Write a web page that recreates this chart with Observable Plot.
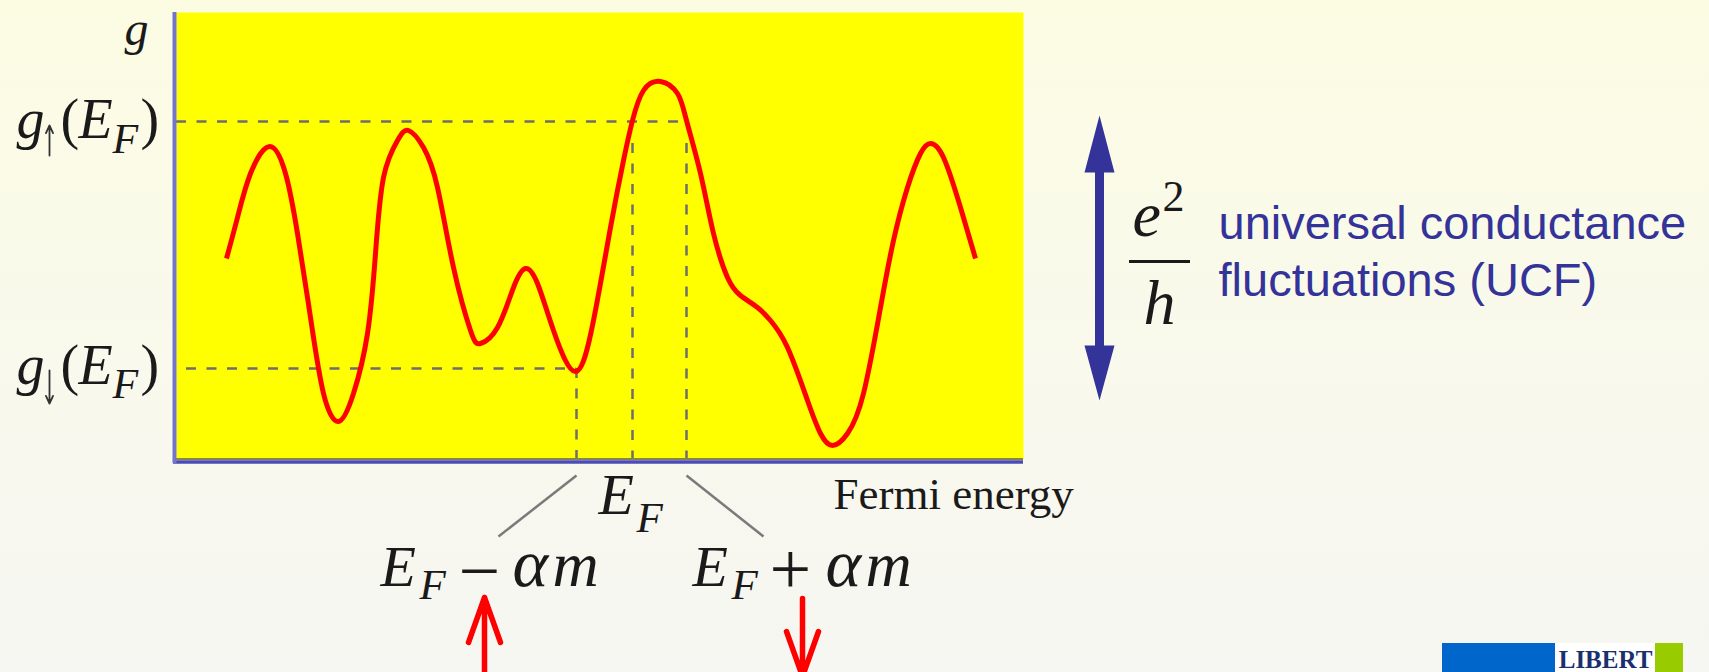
<!DOCTYPE html>
<html>
<head>
<meta charset="utf-8">
<script src="https://cdn.jsdelivr.net/npm/d3@7"></script>
<script src="https://cdn.jsdelivr.net/npm/@observablehq/plot@0.6"></script>
<style>
  html, body { margin: 0; padding: 0; width: 1709px; height: 672px; overflow: hidden;
    background: linear-gradient(180deg, #fcfce3 0%, #f9f9ec 50%, #f6f6f2 100%); }
  #chart svg { display: block; }
</style>
</head>
<body>
<div id="chart"></div>
<script>
// ---- Data: conductance g versus Fermi energy (arbitrary units) ----
const energy = [5.0, 6.1, 7.4, 9.3, 10.9, 12.1, 13.4, 14.7, 16.2, 17.7, 19.1, 19.9, 20.7, 22.1, 23.2,
  24.7, 26.1, 27.7, 29.4, 30.4, 32.1, 33.7, 34.9, 36.1, 37.7, 39.9, 41.7, 43.4, 44.7, 45.6, 46.7,
  48.4, 50.1, 51.0, 52.4, 53.7, 55.1, 56.4, 58.1, 59.4, 61.1, 63.1, 64.4, 65.6, 67.1, 68.7, 70.4,
  71.7, 73.1, 74.4, 75.4, 76.7, 78.4, 79.9];
const conductance = [20.1, 24.2, 28.6, 31.3, 28.6, 22.6, 14.2, 6.6, 3.8, 6.6, 12.6, 20.6, 28.2, 31.9, 32.9,
  31.2, 27.2, 19.2, 12.9, 11.6, 13.2, 17.2, 19.1, 17.6, 12.9, 8.8, 13.9, 23.2, 29.9, 33.9, 36.9,
  37.8, 36.6, 33.9, 28.6, 22.6, 18.2, 16.4, 15.2, 13.9, 11.2, 5.9, 2.6, 1.4, 2.6, 6.6, 15.2,
  21.9, 27.2, 30.6, 31.6, 30.2, 25.2, 20.1];

// reference levels
const gUp = 33.8;      // g↑(E_F)
const gDown = 9.1;     // g↓(E_F)
const eMinus = 40.0;   // E_F − αm
const eF = 45.6;       // E_F
const ePlus = 51.0;    // E_F + αm
const upperGuideEnd = 50.4;
const lowerGuideStart = 1.0;
const verticalGuideTop = 31.6;

const curve = energy.map((e, i) => ({e, g: conductance[i]}));

// ---- Annotation texts (math pieces) ----
const italicPieces = [
  {t: "g", x: -5.2, y: 41.5, s: 48},
  {t: "g", x: -16.0, y: 32.2, s: 56},
  {t: "E", x: -9.8, y: 32.2, s: 56},
  {t: "F", x: -6.4, y: 30.7, s: 42},
  {t: "g", x: -16.0, y: 7.6, s: 56},
  {t: "E", x: -9.8, y: 7.6, s: 56},
  {t: "F", x: -6.4, y: 6.2, s: 42},
  {t: "E", x: 42.2, y: -5.4, s: 58},
  {t: "F", x: 46.0, y: -7.2, s: 43},
  {t: "E", x: 20.4, y: -12.6, s: 58},
  {t: "F", x: 24.3, y: -13.9, s: 43},
  {t: "α", x: 33.6, y: -12.6, s: 68},
  {t: "m", x: 37.6, y: -12.6, s: 64},
  {t: "E", x: 51.6, y: -12.6, s: 58},
  {t: "F", x: 55.5, y: -13.9, s: 43},
  {t: "α", x: 64.9, y: -12.6, s: 68},
  {t: "m", x: 68.9, y: -12.6, s: 64},
  {t: "e", x: 95.6, y: 22.4, s: 64},
  {t: "h", x: 96.7, y: 13.6, s: 64}
];
const uprightPieces = [
  {t: "(", x: -11.6, y: 32.2, s: 56},
  {t: ")", x: -3.6, y: 32.2, s: 56},
  {t: "(", x: -11.6, y: 7.6, s: 56},
  {t: ")", x: -3.6, y: 7.6, s: 56},
  {t: "−", x: 28.2, y: -13.6, s: 74},
  {t: "+", x: 59.3, y: -13.4, s: 74},
  {t: "2", x: 98.6, y: 24.9, s: 44},
  {t: "Fermi energy", x: 65.7, y: -4.9, s: 45}
];
// the ↑ / ↓ spin subscripts of g, drawn as thin arrows
const spinSubscripts = [
  {x: -12.7, y1: 30.4, y2: 33.4},
  {x: -12.7, y1: 8.9, y2: 5.6}
];
const ucfLines = [
  {t: "universal conductance", x: 104.2, y: 22.1},
  {t: "fluctuations (UCF)", x: 104.2, y: 16.4}
];
const splitLinks = [
  {x1: eMinus, y1: -1.6, x2: 32.2, y2: -7.7},
  {x1: ePlus, y1: -1.6, x2: 58.7, y2: -7.7}
];
const spinUpArrow = [{x: 30.8, y: -22.1}];
const spinDownArrow = [{x: 62.6, y: -13.9}];
const ucfArrow = [{x: 92.3, y: 5.9}];
const logoBlocks = [
  {x1: 126.6, x2: 137.9, fill: "#0066cc"},
  {x1: 137.9, x2: 147.9, fill: "#ffffff"},
  {x1: 147.9, x2: 150.7, fill: "#99cc00"}
];

// custom shapes
const openArrow = {
  draw(ctx, l) {
    ctx.moveTo(0, 0); ctx.lineTo(0, -l);
    ctx.moveTo(-16, -l + 45); ctx.lineTo(0, -l); ctx.lineTo(16, -l + 45);
  }
};
const doubleArrow = {
  draw(ctx, l) {
    const hw = 15, sw = 4.5, h1 = 57, h2 = 55;
    ctx.moveTo(0, -l);
    ctx.lineTo(hw, -l + h1); ctx.lineTo(sw, -l + h1);
    ctx.lineTo(sw, -h2); ctx.lineTo(hw, -h2);
    ctx.lineTo(0, 0);
    ctx.lineTo(-hw, -h2); ctx.lineTo(-sw, -h2);
    ctx.lineTo(-sw, -l + h1); ctx.lineTo(-hw, -l + h1);
    ctx.closePath();
  }
};

const serif = "'Liberation Serif', 'Times New Roman', serif";
const ink = "#1a1a1a";
const dash = "10,10.5";
const guide = "#6e6e6e";

const chart = Plot.plot({
  width: 1709,
  height: 672,
  marginLeft: 176,
  marginRight: 686,
  marginTop: 12,
  marginBottom: 213,
  x: {domain: [0, 84.7], axis: null},
  y: {domain: [0, 44.7], axis: null},
  style: {background: "transparent", overflow: "hidden"},
  marks: [
    Plot.frame({fill: "#ffff00", stroke: null}),
    // guide lines
    Plot.ruleY([gUp], {x1: 0, x2: upperGuideEnd, stroke: guide, strokeWidth: 2.5, strokeDasharray: dash}),
    Plot.ruleY([gDown], {x1: lowerGuideStart, x2: eMinus, stroke: guide, strokeWidth: 2.5, strokeDasharray: dash}),
    Plot.ruleX([eMinus], {y1: gDown, y2: 0, stroke: guide, strokeWidth: 2.5, strokeDasharray: dash}),
    Plot.ruleX([eF, ePlus], {y1: verticalGuideTop, y2: 0, stroke: guide, strokeWidth: 2.5, strokeDasharray: dash}),
    // the conductance curve
    Plot.line(curve, {x: "e", y: "g", stroke: "#ff0000", strokeWidth: 5, curve: "natural", strokeLinecap: "butt"}),
    // axes
    Plot.ruleY([0], {x1: 0, x2: 84.7, stroke: "#86864a", strokeWidth: 2, dy: -0.5}),
    Plot.ruleY([0], {x1: -0.3, x2: 84.7, stroke: "#4b4bb5", strokeWidth: 3.5, dy: 2.5}),
    Plot.ruleX([0], {y1: -0.4, y2: 44.7, stroke: "#7474c8", strokeWidth: 4, dx: -2}),
    // split lines below the E_F axis
    Plot.link(splitLinks, {x1: "x1", y1: "y1", x2: "x2", y2: "y2", stroke: "#7a7a7a", strokeWidth: 2.5}),
    // math labels
    Plot.text(italicPieces, {x: "x", y: "y", text: "t", fontSize: d => d.s, fontFamily: serif, fontStyle: "italic",
      textAnchor: "start", lineAnchor: "bottom", fill: ink}),
    Plot.text(uprightPieces, {x: "x", y: "y", text: "t", fontSize: d => d.s, fontFamily: serif,
      textAnchor: "start", lineAnchor: "bottom", fill: ink}),
    Plot.arrow(spinSubscripts, {x: "x", y1: "y1", y2: "y2", stroke: "#333333", strokeWidth: 1.8,
      headLength: 7, headAngle: 50}),
    // fraction bar of e²/h
    Plot.ruleY([19.8], {x1: 95.3, x2: 101.4, stroke: ink, strokeWidth: 3}),
    // UCF text
    Plot.text(ucfLines, {x: "x", y: "y", text: "t", fontSize: 47, fontFamily: "'Liberation Sans', Arial, sans-serif",
      textAnchor: "start", lineAnchor: "bottom", fill: "#333399"}),
    // arrows
    Plot.vector(ucfArrow, {x: "x", y: "y", length: 285, rotate: 0, anchor: "start", shape: doubleArrow,
      fill: "#333399", stroke: "none"}),
    Plot.vector(spinUpArrow, {x: "x", y: "y", length: 83, rotate: 0, anchor: "start", shape: openArrow,
      stroke: "#ff0000", strokeWidth: 5.5, strokeLinecap: "round", strokeLinejoin: "round"}),
    Plot.vector(spinDownArrow, {x: "x", y: "y", length: 78, rotate: 180, anchor: "start", shape: openArrow,
      stroke: "#ff0000", strokeWidth: 5.5, strokeLinecap: "round", strokeLinejoin: "round"}),
    // logo strip
    Plot.rect(logoBlocks, {x1: "x1", x2: "x2", y1: -18.4, y2: -25, fill: "fill"}),
    Plot.text(["LIBERT"], {x: 142.9, y: -20.8, fontSize: 25, fontWeight: "bold", fontFamily: serif,
      fill: "#1b2f6e", lineAnchor: "bottom"})
  ]
});
document.getElementById("chart").append(chart);
</script>
</body>
</html>
